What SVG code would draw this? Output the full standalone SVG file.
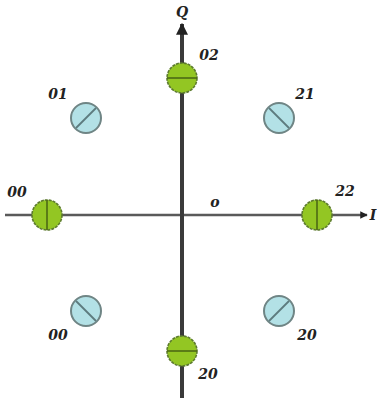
<svg xmlns="http://www.w3.org/2000/svg" width="377" height="398" viewBox="0 0 377 398">
  <style>
    .lbl { font-family: "DejaVu Serif", "Liberation Serif", serif; font-weight: bold; font-style: italic; font-size: 14px; fill: #222; text-anchor: middle; dominant-baseline: central; }
    .axisV { stroke: #3a3a3a; stroke-width: 4; fill: none; }
    .axisH { stroke: #5a5a5a; stroke-width: 2.5; fill: none; }
    .pt-g circle { fill: #93c623; stroke: #5c7a2e; stroke-width: 1.6; stroke-dasharray: 3 1; }
    .pt-g line { stroke: #4d6a14; stroke-width: 1.6; }
    .pt-b circle { fill: #b3e1e6; stroke: #6f8585; stroke-width: 2; }
    .pt-b line { stroke: #5d7b7e; stroke-width: 1.8; }
  </style>
  <defs>
    <marker id="arrow" viewBox="0 0 10 10" refX="9" refY="5" markerWidth="3" markerHeight="3" orient="auto" markerUnits="strokeWidth">
      <path d="M0,0 L10,5 L0,10 z" fill="#222"/>
    </marker>
  </defs>
  <rect width="377" height="398" fill="#fff"/>

  <!-- axes -->
  <g id="connectors">
    <line class="axisH" x1="5" y1="215" x2="367" y2="215" marker-end="url(#arrow)"/>
    <line class="axisV" x1="182" y1="398" x2="182" y2="24" marker-end="url(#arrow)"/>
  </g>

  <!-- axis labels -->
  <text class="lbl" x="182" y="12">Q</text>
  <text class="lbl" x="373" y="215">I</text>
  <text class="lbl" x="215" y="202">o</text>

  <!-- points on the axes -->
  <g id="p02" class="pt-g">
    <circle cx="182" cy="78" r="15"/>
    <line x1="167" y1="78" x2="197" y2="78"/>
    <text class="lbl" x="209" y="55">02</text>
  </g>
  <g id="p00" class="pt-g">
    <circle cx="47" cy="215" r="15"/>
    <line x1="47" y1="200" x2="47" y2="230"/>
    <text class="lbl" x="17" y="192">00</text>
  </g>
  <g id="p22" class="pt-g">
    <circle cx="317" cy="215" r="15"/>
    <line x1="317" y1="200" x2="317" y2="230"/>
    <text class="lbl" x="345" y="191">22</text>
  </g>
  <g id="p20b" class="pt-g">
    <circle cx="182" cy="351" r="15"/>
    <line x1="167" y1="351" x2="197" y2="351"/>
    <text class="lbl" x="208" y="374">20</text>
  </g>

  <!-- diagonal points -->
  <g id="p01" class="pt-b">
    <circle cx="86" cy="118" r="15"/>
    <line x1="76" y1="128" x2="96" y2="108"/>
    <text class="lbl" x="58" y="94">01</text>
  </g>
  <g id="p21" class="pt-b">
    <circle cx="279" cy="118" r="15"/>
    <line x1="269" y1="108" x2="289" y2="128"/>
    <text class="lbl" x="305" y="94">21</text>
  </g>
  <g id="p00b" class="pt-b">
    <circle cx="86" cy="311" r="15"/>
    <line x1="76" y1="301" x2="96" y2="321"/>
    <text class="lbl" x="58" y="335">00</text>
  </g>
  <g id="p20" class="pt-b">
    <circle cx="279" cy="311" r="15"/>
    <line x1="269" y1="321" x2="289" y2="301"/>
    <text class="lbl" x="307" y="335">20</text>
  </g>
</svg>
